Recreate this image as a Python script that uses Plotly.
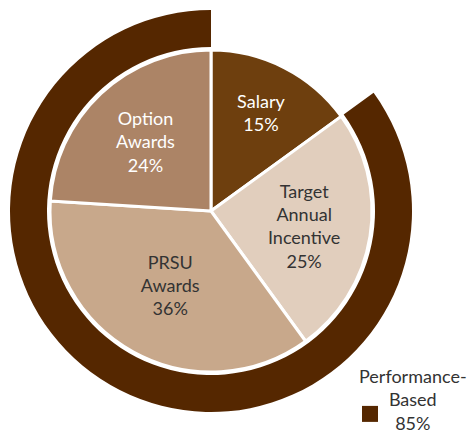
import plotly.graph_objects as go

# ---- data ----
labels = ["Salary", "Target Annual Incentive", "PRSU Awards", "Option Awards"]
text_labels = ["Salary", "Target<br>Annual<br>Incentive", "PRSU<br>Awards", "Option<br>Awards"]
values = [15, 25, 36, 24]

ring_labels = ["Fixed", "Performance-Based"]
ring_values = [15, 85]
legend_text = "Performance-<br>Based<br>85%"

# ---- styles ----
slice_colors = ["#6e3f0e", "#e1cebd", "#c8a88b", "#ac8466"]
text_colors = ["#ffffff", "#333333", "#333333", "#ffffff"]
ring_colors = ["rgba(0,0,0,0)", "#552700"]
FONT = "Lato"
FS = 18

W, H = 468, 435
cx, cy = 211, 211
r_in, r_out = 161, 201
ring_hole = 164 / 201


def dom(r):
    return dict(x=[(cx - r) / W, (cx + r) / W], y=[1 - (cy + r) / H, 1 - (cy - r) / H])


fig = go.Figure()

fig.add_trace(go.Pie(
    labels=ring_labels, values=ring_values, sort=False, direction="clockwise",
    rotation=0, hole=ring_hole, domain=dom(r_out),
    marker=dict(colors=ring_colors, line=dict(width=0)),
    textinfo="none", hoverinfo="skip", showlegend=False,
))

fig.add_trace(go.Pie(
    labels=labels, values=values, sort=False, direction="clockwise", rotation=0,
    domain=dom(r_in), text=text_labels,
    texttemplate="%{text}<br>%{value}%", textposition="inside",
    insidetextorientation="horizontal",
    textfont=dict(family=FONT, size=FS, color=text_colors),
    marker=dict(colors=slice_colors, line=dict(color="white", width=3)),
    hoverinfo="label+value", showlegend=False,
))

# legend marker
fig.add_trace(go.Scatter(
    x=[None], y=[None], mode="markers", name=" ",
    marker=dict(symbol="square", size=17, color=ring_colors[1]),
    showlegend=True, hoverinfo="skip",
))

fig.add_annotation(
    text=legend_text, x=413 / W, y=0, xref="paper", yref="paper",
    xanchor="center", yanchor="bottom", showarrow=False, align="center",
    font=dict(family=FONT, size=FS, color="#333333"), borderpad=0,
)

fig.update_layout(
    width=W, height=H, margin=dict(l=0, r=0, t=0, b=0),
    paper_bgcolor="white", plot_bgcolor="white",
    xaxis=dict(visible=False), yaxis=dict(visible=False),
    legend=dict(x=350 / W, y=1 - 414 / H, xanchor="left", yanchor="middle",
                bgcolor="rgba(0,0,0,0)", font=dict(family=FONT, size=16)),
)

fig.write_html("out.html", config={"displayModeBar": False},
               post_script="document.body.style.margin='0';")
